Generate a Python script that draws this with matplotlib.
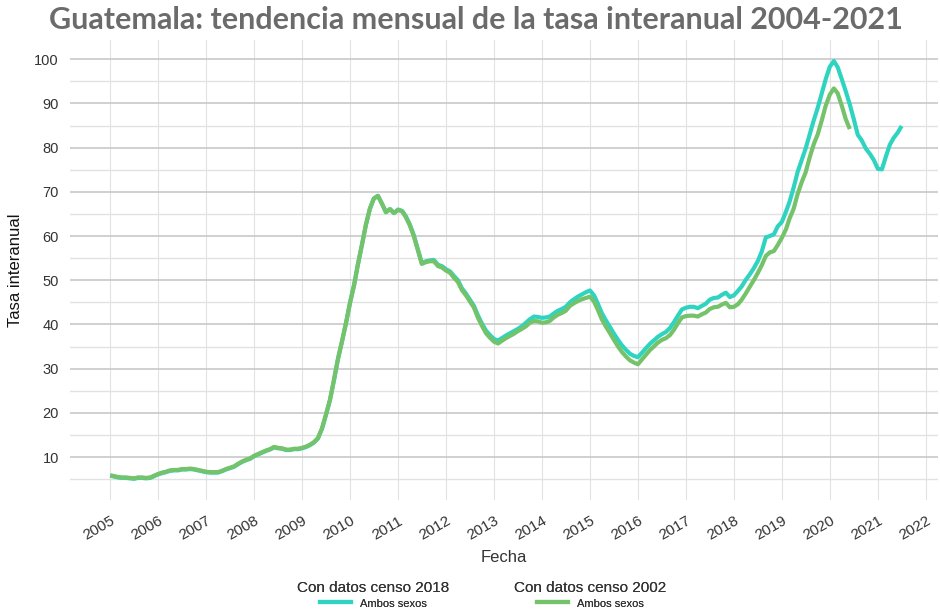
import matplotlib

matplotlib.use("Agg")
import matplotlib.dates as mdates
import matplotlib.pyplot as plt
import pandas as pd
from matplotlib.lines import Line2D

CENSO_2018_COLOR = "#2fd4c0"
CENSO_2002_COLOR = "#74c26a"
GRID_MAJOR = "#c4c4c4"
GRID_MINOR = "#e2e2e2"
TEXT_COLOR = "#333333"

# tasa interanual mensual, enero 2005 - julio 2021 (censo 2018)
censo_2018 = [
    5.8, 5.6, 5.4, 5.3, 5.3, 5.2, 5.1, 5.3, 5.3, 5.2, 5.3, 5.7,
    6.1, 6.4, 6.6, 6.9, 7.0, 7.0, 7.2, 7.2, 7.3, 7.2, 7.0, 6.8,
    6.6, 6.5, 6.5, 6.5, 6.8, 7.2, 7.5, 7.8, 8.4, 8.9, 9.3, 9.6,
    10.2, 10.6, 11.0, 11.4, 11.7, 12.2, 12.0, 11.9, 11.6, 11.6, 11.8, 11.8,
    12.0, 12.3, 12.7, 13.3, 14.2, 16.4, 19.5, 22.9, 27.5, 32.2, 36.2, 40.3,
    45.0, 49.0, 53.5, 58.0, 62.5, 66.2, 68.5, 69.1, 67.3, 65.4, 66.1, 65.2,
    66.0, 65.7, 64.5, 62.6, 60.2, 57.0, 53.9, 54.3, 54.5, 54.6, 53.5, 53.2,
    52.5, 52.0, 51.0, 50.0, 48.2, 47.0, 45.6, 44.2, 42.0, 40.2, 38.6, 37.6,
    36.7, 36.4, 36.9, 37.5, 38.0, 38.5, 39.0, 39.6, 40.4, 41.2, 41.8, 41.7,
    41.5, 41.6, 41.8, 42.5, 43.1, 43.5, 44.0, 45.0, 45.7, 46.3, 46.8, 47.3,
    47.7, 46.6, 44.8, 42.6, 41.0, 39.5, 38.0, 36.6, 35.3, 34.3, 33.4, 32.9,
    32.6, 33.6, 34.6, 35.6, 36.4, 37.2, 37.8, 38.3, 39.2, 40.5, 42.0, 43.4,
    43.8, 44.0, 44.0, 43.7, 44.2, 44.7, 45.6, 46.0, 46.1, 46.7, 47.2, 46.2,
    46.6, 47.6, 48.6, 50.1, 51.3, 52.7, 54.3, 56.5, 59.7, 60.0, 60.4, 62.2,
    63.2, 65.5, 67.8, 71.0, 74.5, 77.2, 79.8, 83.0, 86.2, 89.0, 92.3, 95.5,
    98.3, 99.6, 98.2, 95.5, 92.8, 89.8, 86.5, 82.9, 81.6, 79.8, 78.6, 77.2,
    75.2, 75.1, 77.8, 80.6, 82.2, 83.4, 84.9,
]

# tasa interanual mensual, enero 2005 - junio 2020 (censo 2002)
censo_2002 = [
    5.9, 5.7, 5.5, 5.4, 5.4, 5.3, 5.2, 5.4, 5.4, 5.3, 5.4, 5.8,
    6.2, 6.5, 6.7, 7.0, 7.1, 7.1, 7.3, 7.3, 7.4, 7.3, 7.1, 6.9,
    6.7, 6.6, 6.6, 6.6, 6.9, 7.3, 7.6, 7.9, 8.5, 9.0, 9.4, 9.7,
    10.3, 10.7, 11.1, 11.5, 11.8, 12.3, 12.1, 12.0, 11.7, 11.7, 11.9, 11.9,
    12.1, 12.4, 12.8, 13.4, 14.3, 16.5, 19.6, 23.0, 27.6, 32.3, 36.3, 40.4,
    45.0, 49.0, 53.5, 58.0, 62.5, 66.2, 68.5, 69.1, 67.3, 65.4, 66.1, 65.2,
    65.9, 65.6, 64.3, 62.4, 60.0, 56.8, 53.7, 54.1, 54.3, 54.3, 53.2, 52.9,
    52.2, 51.7, 50.6, 49.6, 47.8, 46.6, 45.2, 43.8, 41.5, 39.7, 38.0, 37.0,
    36.1, 35.7, 36.3, 36.9, 37.4, 37.9, 38.5, 39.0, 39.6, 40.4, 40.8, 40.7,
    40.4, 40.5, 40.8, 41.6, 42.2, 42.6, 43.1, 44.2, 44.8, 45.3, 45.7, 46.0,
    46.3, 45.2, 43.4, 41.2, 39.6, 38.1, 36.6, 35.1, 33.8, 32.8, 31.9, 31.4,
    31.0, 32.1, 33.1, 34.2, 35.0, 35.9, 36.5, 36.9, 37.6, 38.8, 40.3, 41.6,
    41.9, 42.0, 42.0, 41.8, 42.3, 42.7, 43.5, 43.9, 44.0, 44.5, 44.9, 43.9,
    44.0, 44.6, 45.6, 47.0, 48.5, 50.0, 51.6, 53.4, 55.5, 56.3, 56.6, 58.0,
    59.6, 61.5, 64.0, 66.2, 69.5, 72.2, 74.4, 77.8, 80.8, 83.0, 86.2, 89.5,
    92.0, 93.4, 92.3, 89.5, 86.5, 84.2,
]

fechas_2018 = pd.date_range("2005-01-01", periods=len(censo_2018), freq="MS")
fechas_2002 = pd.date_range("2005-01-01", periods=len(censo_2002), freq="MS")

plt.rcParams["font.family"] = ["Liberation Sans", "DejaVu Sans"]

figure = plt.figure(figsize=(9.4, 6.12), dpi=100)
axis = figure.add_axes([0.0745, 0.183, 0.923, 0.752])

axis.plot(fechas_2018, censo_2018, color=CENSO_2018_COLOR, linewidth=3.0,
          solid_capstyle="butt", solid_joinstyle="round")
axis.plot(fechas_2002, censo_2002, color=CENSO_2002_COLOR, linewidth=3.0,
          solid_capstyle="butt", solid_joinstyle="round")

axis.set_xlim(pd.Timestamp("2004-03-01"), pd.Timestamp("2022-04-01"))
axis.set_ylim(0.3, 104.4)

axis.xaxis.set_major_locator(mdates.YearLocator())
axis.xaxis.set_major_formatter(mdates.DateFormatter("%Y"))
axis.set_yticks(range(10, 101, 10))
axis.set_yticks(range(5, 101, 10), minor=True)

axis.grid(axis="y", which="major", color=GRID_MAJOR, linewidth=1.1)
axis.grid(axis="y", which="minor", color=GRID_MINOR, linewidth=1.0)
axis.grid(axis="x", which="major", color=GRID_MINOR, linewidth=0.8)
axis.set_axisbelow(True)
for spine in axis.spines.values():
    spine.set_visible(False)
axis.tick_params(axis="both", which="both", length=0, colors=TEXT_COLOR, labelsize=10.5)
axis.tick_params(axis="x", labelsize=11, pad=10)
axis.tick_params(axis="y", pad=8)
for label in axis.get_xticklabels():
    label.set_rotation(30)
    label.set_ha("right")
    label.set_rotation_mode("anchor")

axis.set_xlabel("Fecha", fontsize=12, color=TEXT_COLOR, labelpad=5)
axis.set_ylabel("Tasa interanual", fontsize=12, color="#111111", labelpad=8)

figure.suptitle(
    "Guatemala: tendencia mensual de la tasa interanual 2004-2021",
    x=0.506, y=0.99, fontsize=22, fontweight="bold", color="#6b6b6b",
    family=["Lato", "DejaVu Sans"],
)

for color, titulo, x_centro in (
    (CENSO_2018_COLOR, "Con datos censo 2018", 0.397),
    (CENSO_2002_COLOR, "Con datos censo 2002", 0.628),
):
    leyenda = figure.legend(
        handles=[Line2D([], [], color=color, linewidth=3.0)],
        labels=["Ambos sexos"],
        title=titulo,
        loc="upper center",
        bbox_to_anchor=(x_centro, 0.062),
        frameon=False,
        fontsize=8,
        title_fontsize=11,
        handlelength=2.8,
        handleheight=1.8,
        handletextpad=0.8,
        borderpad=0.1,
        labelspacing=0.1,
    )
    leyenda.get_title().set_color(TEXT_COLOR)
    for texto in leyenda.get_texts():
        texto.set_color(TEXT_COLOR)
    figure.add_artist(leyenda)

figure.savefig("out.png", dpi=100)
plt.close(figure)
